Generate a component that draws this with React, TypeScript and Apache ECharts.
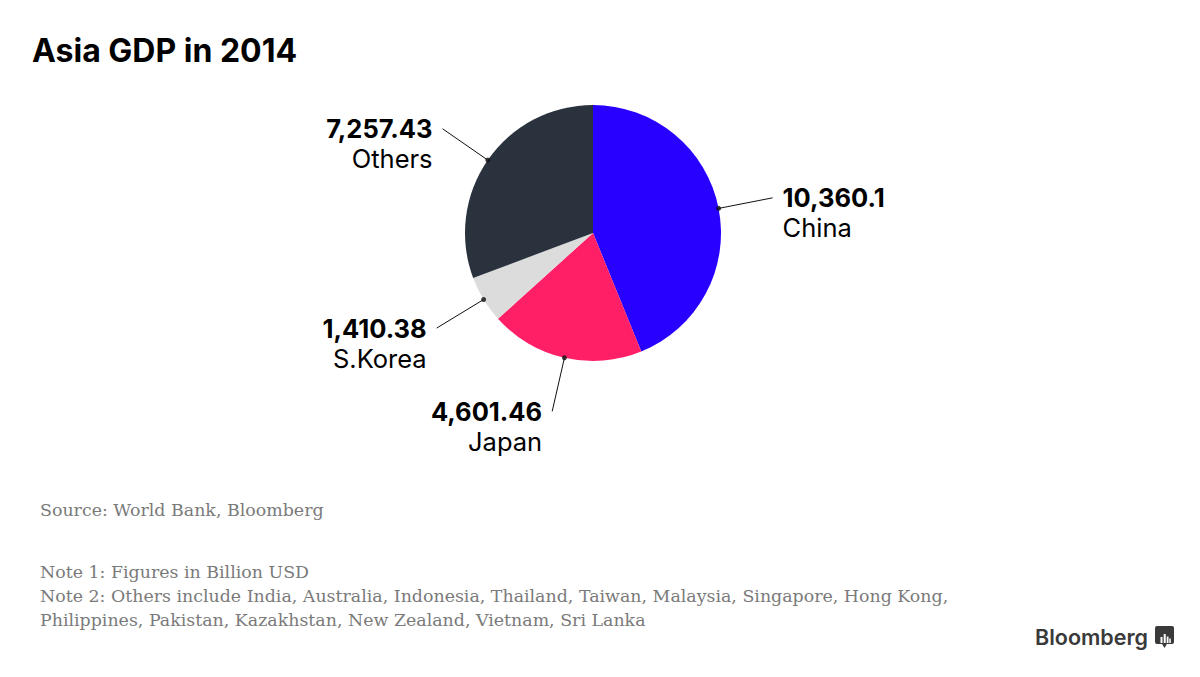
import React, { useEffect, useRef } from "react";
import * as echarts from "echarts";

const categories = ["China", "Japan", "S.Korea", "Others"];
const gdpValues = [10360.1, 4601.46, 1410.38, 7257.43];
const sliceColors = ["#2800ff", "#ff1f66", "#dcdcdc", "#29323d"];

const titleText = "Asia GDP in 2014";
const sourceText = "Source: World Bank, Bloomberg";
const noteLines = [
  "Note 1: Figures in Billion USD",
  "Note 2: Others include India, Australia, Indonesia, Thailand, Taiwan, Malaysia, Singapore, Hong Kong,",
  "Philippines, Pakistan, Kazakhstan, New Zealand, Vietnam, Sri Lanka",
];

const SANS = "Inter, 'Liberation Sans', Arial, sans-serif";
const SERIF = "'DejaVu Serif', serif";

export default function App() {
  const ref = useRef<HTMLDivElement>(null);
  useEffect(() => {
    document.body.style.margin = "0";
    if (!ref.current) return;
    const chart = echarts.init(ref.current, undefined, { renderer: "svg" });
    const total = gdpValues.reduce((a, b) => a + b, 0);
    const mids: number[] = [];
    let acc = 0;
    gdpValues.forEach((v) => {
      mids.push(acc + v / 2);
      acc += v;
    });
    const center = [593, 233];
    const radius = 128;

    const option: any = {
      animation: false,
      backgroundColor: "#ffffff",
      polar: { center, radius },
      angleAxis: {
        type: "value",
        min: 0,
        max: total,
        startAngle: 90,
        clockwise: true,
        show: false,
      },
      radiusAxis: { type: "value", min: 0, max: 1, show: false },
      series: [
        {
          type: "pie",
          center,
          radius,
          startAngle: 90,
          clockwise: true,
          avoidLabelOverlap: false,
          silent: true,
          itemStyle: { borderWidth: 0 },
          data: categories.map((name, i) => ({
            name,
            value: gdpValues[i],
            itemStyle: { color: sliceColors[i] },
          })),
          label: {
            show: true,
            position: "outside",
            distanceToLabelLine: 10,
            padding: [30, 0, 0, 0],
            formatter: (p: any) =>
              "{v|" +
              p.value.toLocaleString("en-US", { maximumFractionDigits: 2 }) +
              "}\n{n|" +
              p.name +
              "}",
            rich: {
              v: {
                fontFamily: SANS,
                fontWeight: "bold",
                fontSize: 25.5,
                lineHeight: 30,
                color: "#000",
              },
              n: {
                fontFamily: SANS,
                fontSize: 25.5,
                lineHeight: 30,
                color: "#000",
              },
            },
          },
          labelLine: {
            show: true,
            length: 55,
            length2: 0,
            smooth: false,
            lineStyle: { color: "#111", width: 1 },
          },
          z: 1,
        },
        {
          type: "scatter",
          coordinateSystem: "polar",
          silent: true,
          symbol: "circle",
          symbolSize: 5,
          itemStyle: { color: "#111" },
          data: mids.map((m) => [1, m]),
          z: 5,
        },
      ],
      graphic: [
        {
          type: "text",
          left: 32,
          top: 34,
          style: {
            text: titleText,
            fontFamily: SANS,
            fontWeight: "bold",
            fontSize: 32,
            fill: "#000",
          },
        },
        {
          type: "text",
          left: 40,
          top: 501,
          style: {
            text: sourceText,
            fontFamily: SERIF,
            fontSize: 17.4,
            fill: "#7a7a7a",
          },
        },
        ...noteLines.map((t, i) => ({
          type: "text",
          left: 40,
          top: 563 + i * 24,
          style: {
            text: t,
            fontFamily: SERIF,
            fontSize: 17.4,
            fill: "#7a7a7a",
          },
        })),
        {
          type: "text",
          right: 52,
          top: 626,
          style: {
            text: "Bloomberg",
            fontFamily: SANS,
            fontWeight: 600,
            fontSize: 21.5,
            fill: "#3a3a3a",
          },
        },
        {
          type: "group",
          left: 1155,
          top: 626,
          children: [
            {
              type: "rect",
              shape: { x: 0, y: 0, width: 19, height: 18, r: 2 },
              style: { fill: "#3a3a3a" },
            },
            {
              type: "polygon",
              shape: { points: [[6.5, 17], [12.5, 17], [9.5, 22]] },
              style: { fill: "#3a3a3a" },
            },
            {
              type: "rect",
              shape: { x: 5.5, y: 11, width: 2, height: 6 },
              style: { fill: "#fff" },
            },
            {
              type: "rect",
              shape: { x: 8.7, y: 8, width: 2, height: 9 },
              style: { fill: "#fff" },
            },
            {
              type: "rect",
              shape: { x: 11.7, y: 10.5, width: 1.8, height: 6.5 },
              style: { fill: "#fff" },
            },
            {
              type: "rect",
              shape: { x: 14.3, y: 12.5, width: 1.5, height: 4.5 },
              style: { fill: "#fff" },
            },
          ],
        },
      ],
    };
    chart.setOption(option);
    return () => chart.dispose();
  }, []);
  return <div ref={ref} style={{ width: 1200, height: 677 }} />;
}
